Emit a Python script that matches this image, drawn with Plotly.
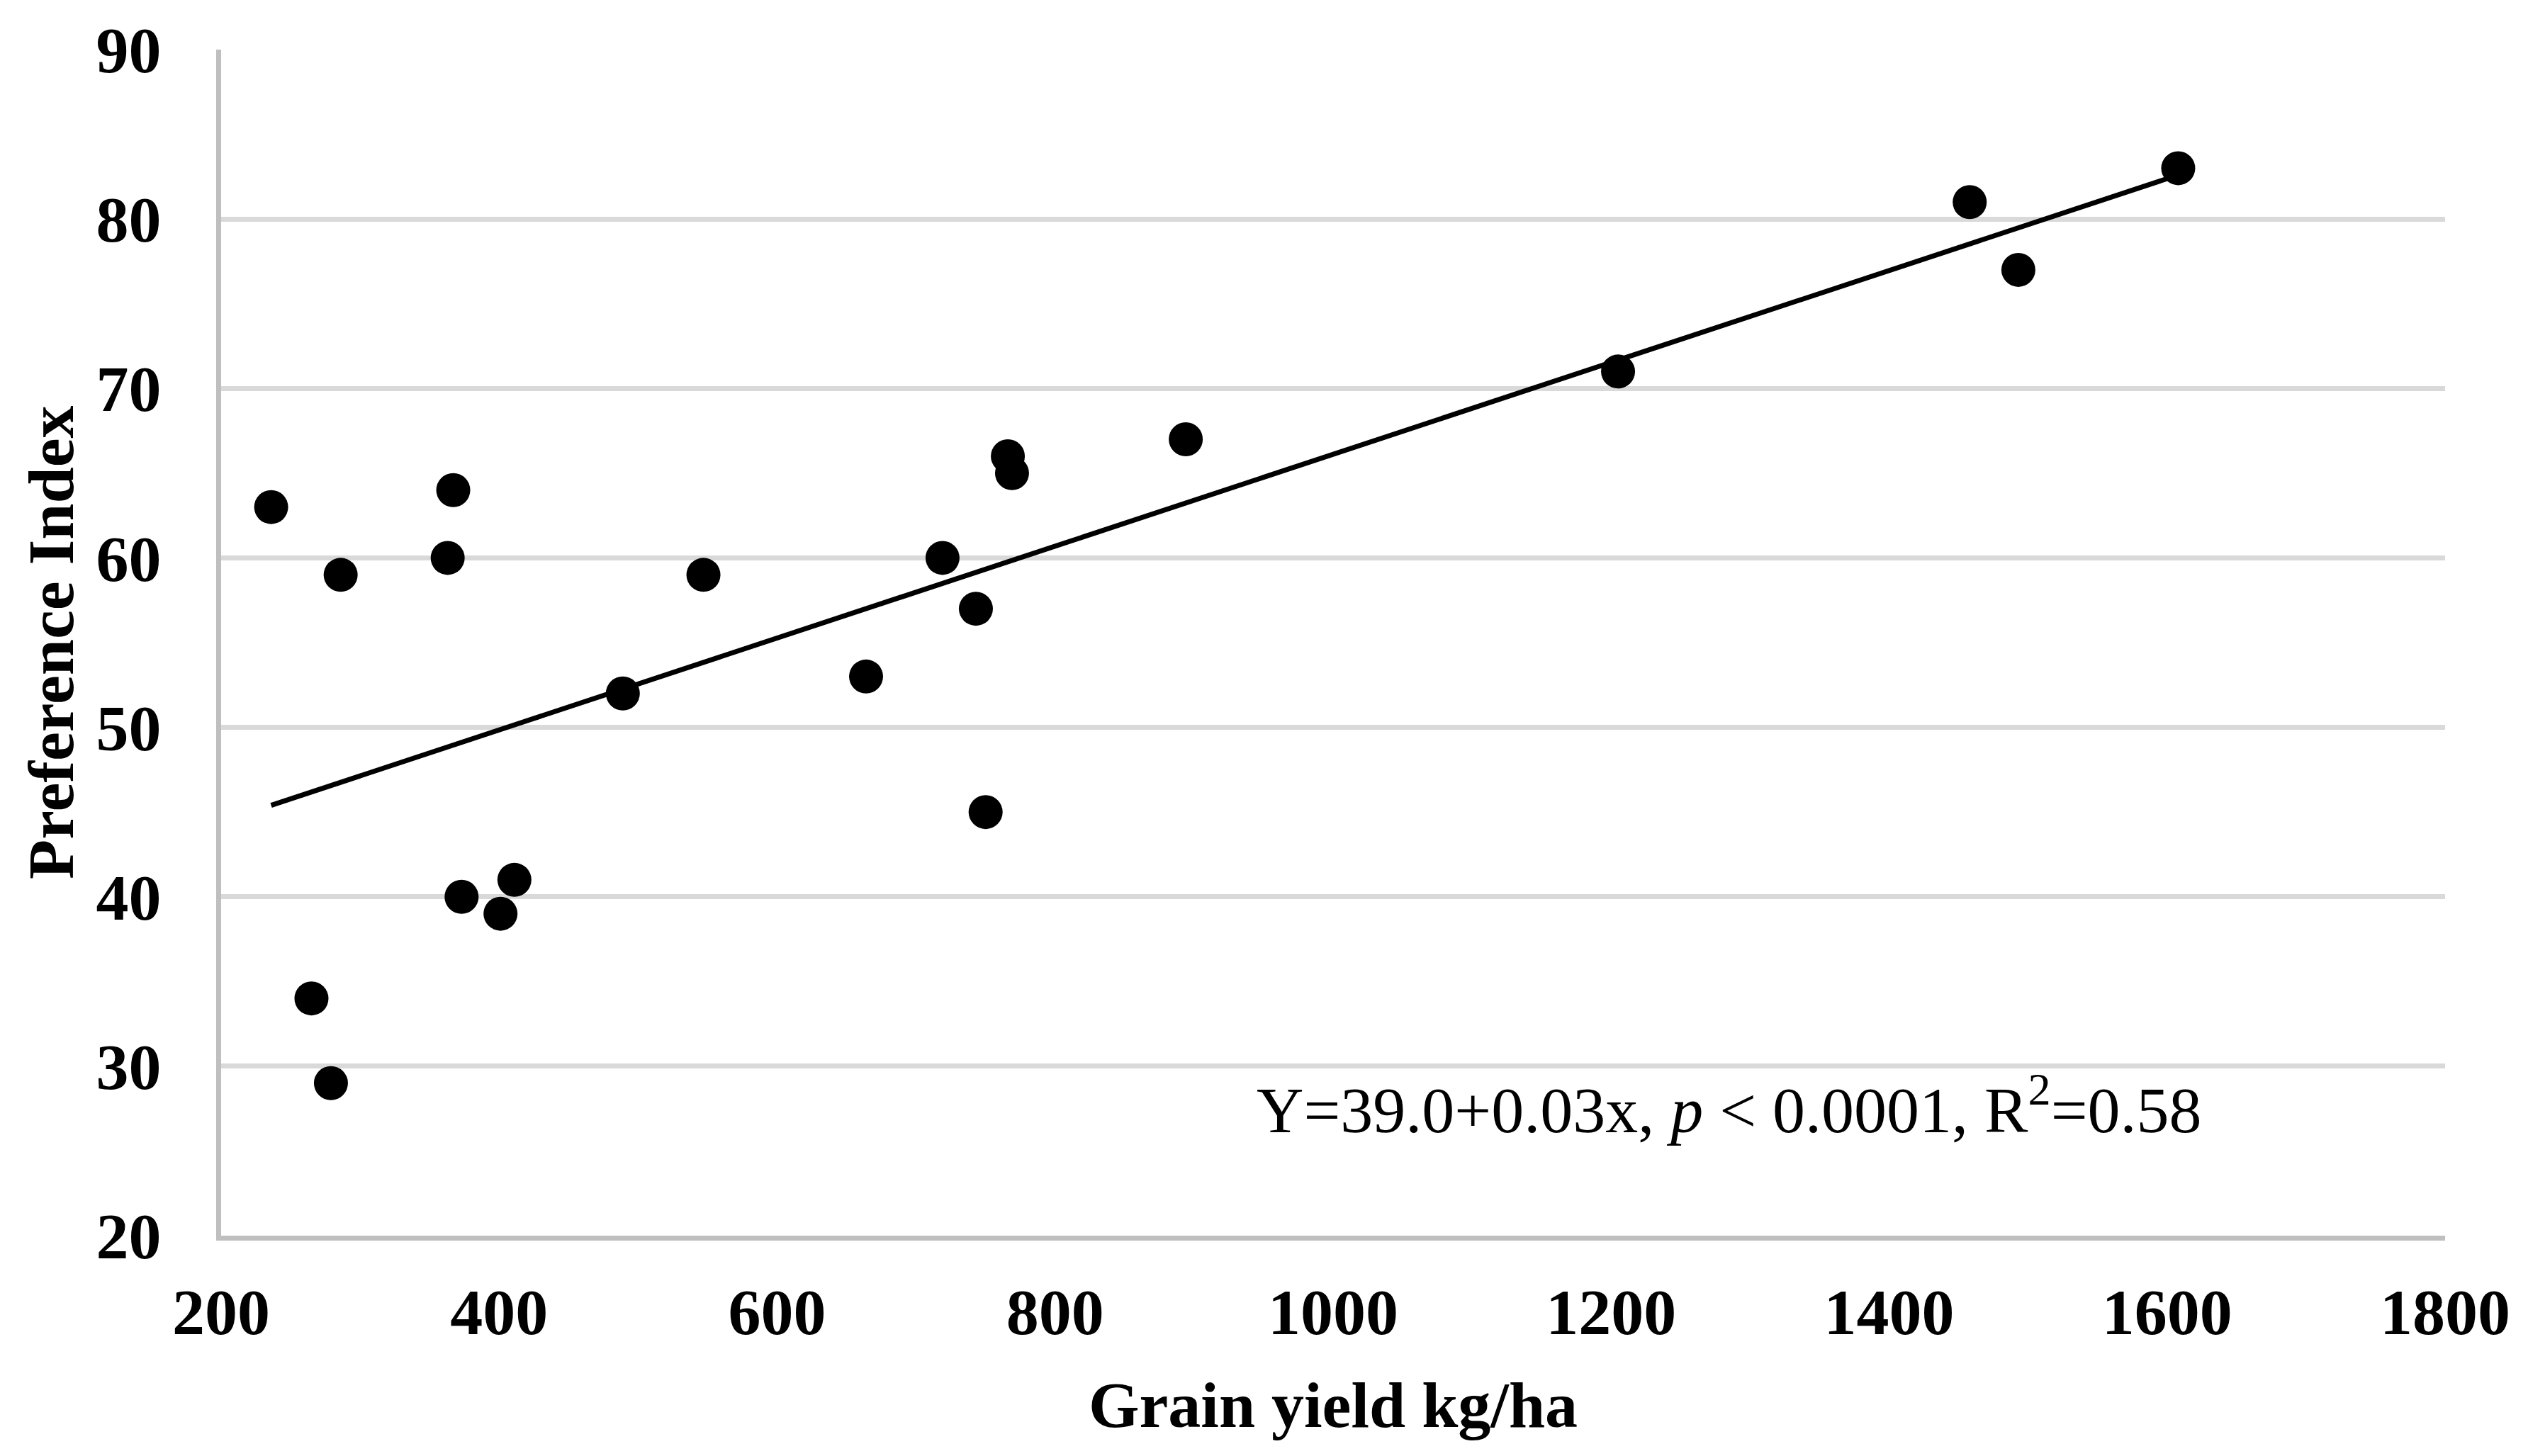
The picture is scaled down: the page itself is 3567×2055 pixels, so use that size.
import plotly.graph_objects as go

# Data
grain_yield = [236, 265, 279, 286, 363, 367, 373, 401, 411, 489, 547, 664,
               719, 743, 750, 766, 769, 894, 1205, 1458, 1493, 1608]
preference_index = [63, 34, 29, 59, 60, 64, 40, 39, 41, 52, 59, 53,
                    60, 57, 45, 66, 65, 67, 71, 81, 77, 83]

# Regression line endpoints (as drawn)
trend_x = [236, 1608]
trend_y = [45.4, 82.6]

x_ticks = [200, 400, 600, 800, 1000, 1200, 1400, 1600, 1800]
y_ticks = [20, 30, 40, 50, 60, 70, 80, 90]

x_title = "Grain yield kg/ha"
y_title = "Preference Index"
equation_text = "Y=39.0+0.03x, <i>p</i> < 0.0001, R<sup>2</sup>=0.58"
eq_pos = (1285, 27.7)

FONT = "Liberation Serif, Times New Roman, serif"
FS = 92

fig = go.Figure()
fig.add_trace(go.Scatter(
    x=grain_yield, y=preference_index, mode="markers",
    marker=dict(color="black", size=48, line=dict(width=0)),
    showlegend=False))
fig.add_trace(go.Scatter(
    x=trend_x, y=trend_y, mode="lines",
    line=dict(color="black", width=7), showlegend=False))

fig.add_annotation(x=eq_pos[0], y=eq_pos[1], xref="x", yref="y",
                   text=equation_text, showarrow=False,
                   font=dict(family=FONT, size=FS, color="black"))

# y-axis title placed as a rotated annotation for precise positioning
fig.add_annotation(x=-0.0765, y=0.5, xref="paper", yref="paper",
                   xanchor="center", yanchor="middle", textangle=-90,
                   text="<b>" + y_title + "</b>", showarrow=False,
                   font=dict(family=FONT, size=FS, color="black"))

# the page body has an 8px margin, so the figure is sized to fit the window
fig.update_layout(
    width=3551, height=2039,
    margin=dict(l=304, r=109, t=52, b=303),
    paper_bgcolor="white", plot_bgcolor="white",
    font=dict(family=FONT, color="black"),
)
fig.update_xaxes(
    range=[200, 1800], tickvals=x_ticks, ticktext=[str(v) for v in x_ticks],
    showgrid=False, zeroline=False,
    showline=True, linecolor="#bfbfbf", linewidth=7,
    ticks="", ticklabelstandoff=22,
    tickfont=dict(family=FONT, size=FS, color="black", weight="bold"),
    title=dict(text="<b>" + x_title + "</b>", standoff=50,
               font=dict(family=FONT, size=FS, color="black")),
)
fig.update_yaxes(
    range=[20, 90], tickvals=y_ticks, ticktext=[str(v) for v in y_ticks],
    showgrid=True, gridcolor="#d9d9d9", gridwidth=7, zeroline=False,
    showline=True, linecolor="#bfbfbf", linewidth=7,
    ticks="", ticklabelstandoff=59,
    tickfont=dict(family=FONT, size=FS, color="black", weight="bold"),
)

fig.write_html("out.html")
